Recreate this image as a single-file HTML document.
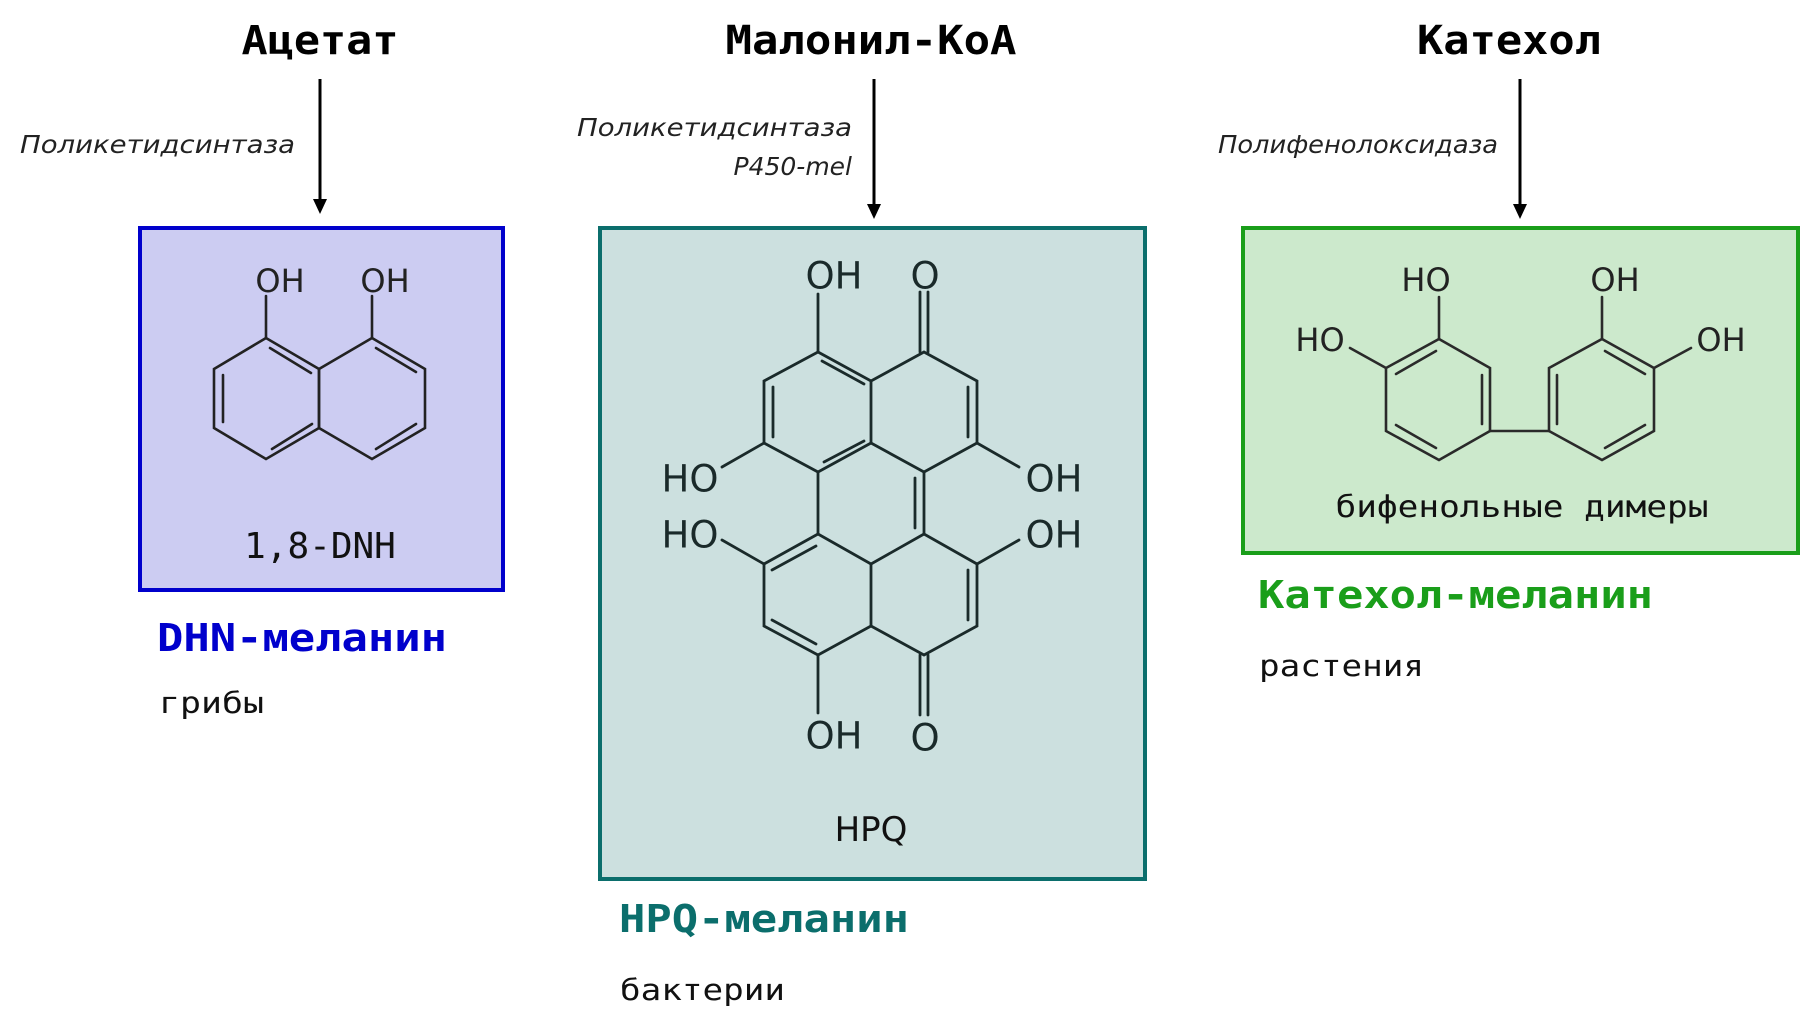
<!DOCTYPE html>
<html><head><meta charset="utf-8"><style>html,body{margin:0;padding:0;background:#fff}svg{display:block}</style></head>
<body>
<svg width="1808" height="1013" viewBox="0 0 1808 1013" xmlns="http://www.w3.org/2000/svg">
<g font-family="'DejaVu Sans Mono','Liberation Mono',monospace" font-weight="bold" font-size="40" text-anchor="middle">
<text x="320" y="54" textLength="157" lengthAdjust="spacingAndGlyphs">Ацетат</text>
<text x="871" y="54" textLength="291" lengthAdjust="spacingAndGlyphs">Малонил-КоА</text>
<text x="1509" y="54" textLength="184" lengthAdjust="spacingAndGlyphs">Катехол</text>
</g>
<g stroke="#000" stroke-width="3">
<line x1="320" y1="79" x2="320" y2="205"/><path d="M313,199 L327,199 L320,214z" fill="#000" stroke="none"/>
<line x1="874" y1="79" x2="874" y2="210"/><path d="M867,204 L881,204 L874,219z" fill="#000" stroke="none"/>
<line x1="1520" y1="79" x2="1520" y2="210"/><path d="M1513,204 L1527,204 L1520,219z" fill="#000" stroke="none"/>
</g>
<g font-family="'DejaVu Sans','Liberation Sans',sans-serif" font-style="italic" font-size="25" fill="#222">
<text x="20" y="153" textLength="275" lengthAdjust="spacingAndGlyphs">Поликетидсинтаза</text>
<text x="852" y="136" text-anchor="end" textLength="275" lengthAdjust="spacingAndGlyphs">Поликетидсинтаза</text>
<text x="852" y="175" text-anchor="end">P450-mel</text>
<text x="1218" y="153" textLength="280" lengthAdjust="spacingAndGlyphs">Полифенолоксидаза</text>
</g>
<rect x="140" y="228" width="363" height="362" fill="#ccccf2" stroke="#0000cc" stroke-width="4"/>
<rect x="600" y="228" width="545" height="651" fill="#cce0df" stroke="#0b6e6c" stroke-width="4"/>
<rect x="1243" y="228" width="555" height="325" fill="#cce9cc" stroke="#1a9e1a" stroke-width="4"/>
<g stroke="#222" stroke-width="2.6" fill="none" stroke-linecap="round">
<polygon points="266,338 214,369 214,428 266,459 319,428 319,369"/>
<polygon points="372,338 425,369 425,428 372,459 319,428 319,369"/>
<line x1="270" y1="348" x2="311" y2="373"/><line x1="223" y1="375" x2="223" y2="422"/><line x1="272" y1="449" x2="312" y2="424"/>
<line x1="376" y1="348" x2="416" y2="372"/><line x1="376" y1="449" x2="416" y2="424"/>
<line x1="266" y1="338" x2="266" y2="296"/><line x1="372" y1="338" x2="372" y2="296"/>
</g>
<g font-family="'DejaVu Sans','Liberation Sans',sans-serif" font-size="32" fill="#222" text-anchor="middle" dominant-baseline="central">
<text x="280" y="281">OH</text><text x="385" y="281">OH</text>
</g>
<text x="320" y="558" font-family="'DejaVu Sans Mono','Liberation Mono',monospace" font-size="36" text-anchor="middle" fill="#111">1,8-DNH</text>
<g stroke="#1a2a2a" stroke-width="2.8" fill="none" stroke-linecap="round">
<path d="M818,352 L764,381 L764,443 L818,472 L871,443 L871,381 Z"/>
<path d="M871,381 L924,352 L977,381 L977,443 L924,472 L871,443"/>
<line x1="818" y1="472" x2="818" y2="534"/><line x1="924" y1="472" x2="924" y2="534"/>
<path d="M818,534 L764,564 L764,626 L818,655 L871,626 L924,655 L977,626 L977,564 L924,534 L871,564 L818,534"/>
<line x1="871" y1="564" x2="871" y2="626"/>
<line x1="773" y1="387" x2="773" y2="437"/><line x1="824" y1="462" x2="864" y2="441"/><line x1="822" y1="361" x2="864" y2="384"/>
<line x1="968" y1="387" x2="968" y2="437"/><line x1="915" y1="478" x2="915" y2="528"/>
<line x1="772" y1="570" x2="816" y2="546"/><line x1="772" y1="620" x2="816" y2="644"/><line x1="968" y1="570" x2="968" y2="620"/>
<line x1="818" y1="352" x2="818" y2="294"/><line x1="920" y1="352" x2="920" y2="292"/><line x1="928" y1="352" x2="928" y2="292"/>
<line x1="764" y1="443" x2="722" y2="467"/><line x1="977" y1="443" x2="1019" y2="467"/>
<line x1="764" y1="564" x2="722" y2="540"/><line x1="977" y1="564" x2="1019" y2="540"/>
<line x1="818" y1="655" x2="818" y2="713"/><line x1="920" y1="655" x2="920" y2="715"/><line x1="928" y1="655" x2="928" y2="715"/>
</g>
<g font-family="'DejaVu Sans','Liberation Sans',sans-serif" font-size="37" fill="#1a2a2a" text-anchor="middle" dominant-baseline="central">
<text x="834" y="276">OH</text><text x="925" y="276">O</text>
<text x="690" y="479">HO</text><text x="1054" y="479">OH</text>
<text x="690" y="535">HO</text><text x="1054" y="535">OH</text>
<text x="834" y="736">OH</text><text x="925" y="738">O</text>
</g>
<text x="871" y="841" font-family="'DejaVu Sans','Liberation Sans',sans-serif" font-size="34" text-anchor="middle" fill="#111">HPQ</text>
<g stroke="#2a2a2a" stroke-width="2.6" fill="none" stroke-linecap="round">
<polygon points="1439,339 1490,368 1490,431 1439,460 1386,431 1386,368"/>
<polygon points="1602,339 1654,368 1654,431 1602,460 1549,431 1549,368"/>
<line x1="1490" y1="431" x2="1549" y2="431"/>
<line x1="1396" y1="374" x2="1436" y2="351"/><line x1="1482" y1="375" x2="1482" y2="424"/><line x1="1396" y1="425" x2="1436" y2="448"/>
<line x1="1605" y1="351" x2="1645" y2="374"/><line x1="1557" y1="375" x2="1557" y2="424"/><line x1="1605" y1="448" x2="1645" y2="425"/>
<line x1="1439" y1="339" x2="1439" y2="297"/><line x1="1386" y1="368" x2="1350" y2="348"/>
<line x1="1602" y1="339" x2="1602" y2="297"/><line x1="1654" y1="368" x2="1691" y2="348"/>
</g>
<g font-family="'DejaVu Sans','Liberation Sans',sans-serif" font-size="32" fill="#222" text-anchor="middle" dominant-baseline="central">
<text x="1426" y="280">HO</text><text x="1320" y="340">HO</text>
<text x="1615" y="280">OH</text><text x="1721" y="340">OH</text>
</g>
<text x="1522" y="517" font-family="'DejaVu Sans Mono','Liberation Mono',monospace" font-size="30" text-anchor="middle" fill="#111" textLength="373" lengthAdjust="spacingAndGlyphs">бифенольные димеры</text>
<g font-family="'DejaVu Sans Mono','Liberation Mono',monospace" font-weight="bold" font-size="38">
<text x="157" y="651" fill="#0000cc" textLength="290" lengthAdjust="spacingAndGlyphs">DHN-меланин</text>
<text x="619" y="932" fill="#0b6e6c" textLength="290" lengthAdjust="spacingAndGlyphs">HPQ-меланин</text>
<text x="1258" y="608" fill="#1a9e1a" textLength="395" lengthAdjust="spacingAndGlyphs">Катехол-меланин</text>
</g>
<g font-family="'DejaVu Sans Mono','Liberation Mono',monospace" font-size="29" fill="#111">
<text x="159" y="713" textLength="105" lengthAdjust="spacingAndGlyphs">грибы</text>
<text x="620" y="1000" textLength="165" lengthAdjust="spacingAndGlyphs">бактерии</text>
<text x="1259" y="676" textLength="165" lengthAdjust="spacingAndGlyphs">растения</text>
</g>
</svg>
</body></html>
